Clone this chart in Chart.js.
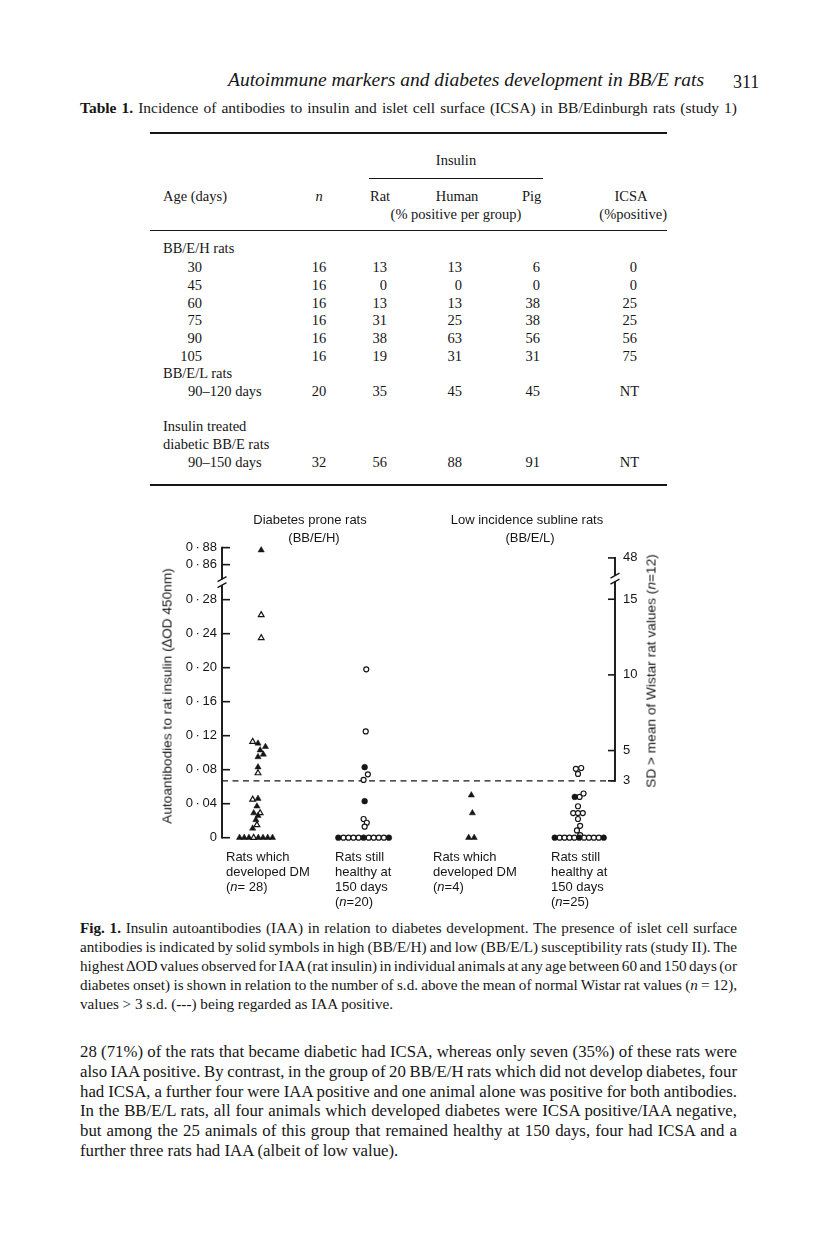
<!DOCTYPE html>
<html lang="en">
<head>
<meta charset="utf-8">
<title>Autoimmune markers and diabetes development in BB/E rats</title>
<script src="https://cdn.jsdelivr.net/npm/chart.js@4.4.1/dist/chart.umd.min.js"></script>
<style>
  html, body { margin: 0; padding: 0; background: #fff; }
  #page { position: relative; width: 816px; height: 1238px; overflow: hidden; background: #fff;
          color: #161616; font-family: "Liberation Serif", "Times New Roman", serif; }
  .t { position: absolute; white-space: nowrap; line-height: 16px; }
  .rule { position: absolute; background: #161616; }
  .tab { font-size: 14.5px; }
  .fig { font-family: "Liberation Sans", Arial, sans-serif; font-size: 13px; z-index: 2; }
  .rot { position: absolute; white-space: nowrap; font-family: "Liberation Sans", Arial, sans-serif;
         font-size: 13.7px; transform: translate(-50%, -50%) rotate(-90deg); }
  .para { position: absolute; left: 80px; width: 657px; }
  .para div { white-space: nowrap; }
  #fig { position: absolute; left: 150px; top: 500px; }
</style>
</head>
<body>
<div id="page">
  <div class="t" style="left:228px; top:69px; font-size:19.5px; line-height:22px; font-style:italic;">Autoimmune markers and diabetes development in BB/E rats</div>
  <div class="t" style="left:733px; top:71px; font-size:18px; line-height:22px;">311</div>
  <div class="para" style="top:99px; font-size:15.5px; line-height:18px;">
    <div class="fit"><b>Table 1.</b> Incidence of antibodies to insulin and islet cell surface (ICSA) in BB/Edinburgh rats (study 1)</div>
  </div>

  <canvas id="fig" width="520" height="350"></canvas>

  <div class="para" style="top:918px; font-size:15.2px; line-height:19px;">
    <div class="fit"><b>Fig. 1.</b> Insulin autoantibodies (IAA) in relation to diabetes development. The presence of islet cell surface</div>
    <div class="fit">antibodies is indicated by solid symbols in high (BB/E/H) and low (BB/E/L) susceptibility rats (study II). The</div>
    <div class="fit">highest ∆OD values observed for IAA (rat insulin) in individual animals at any age between 60 and 150 days (or</div>
    <div class="fit">diabetes onset) is shown in relation to the number of s.d. above the mean of normal Wistar rat values (<i>n</i> = 12),</div>
    <div>values &gt; 3 s.d. (---) being regarded as IAA positive.</div>
  </div>

  <div class="para" style="top:1042px; font-size:16.8px; line-height:19.8px;">
    <div class="fit">28 (71%) of the rats that became diabetic had ICSA, whereas only seven (35%) of these rats were</div>
    <div class="fit">also IAA positive. By contrast, in the group of 20 BB/E/H rats which did not develop diabetes, four</div>
    <div class="fit">had ICSA, a further four were IAA positive and one animal alone was positive for both antibodies.</div>
    <div class="fit">In the BB/E/L rats, all four animals which developed diabetes were ICSA positive/IAA negative,</div>
    <div class="fit">but among the 25 animals of this group that remained healthy at 150 days, four had ICSA and a</div>
    <div>further three rats had IAA (albeit of low value).</div>
  </div>
</div>

<script>
// ---------------- Table 1 ----------------
const ageDays  = ['30', '45', '60', '75', '90', '105']
const nRats    = [16, 16, 16, 16, 16, 16]
const ratPct   = [13, 0, 13, 31, 38, 19]
const humanPct = [13, 0, 13, 25, 63, 31]
const pigPct   = [6, 0, 38, 38, 56, 31]
const icsaPct  = [0, 0, 25, 25, 56, 75]
const lowRow     = ['90–120 days', 20, 35, 45, 45, 'NT']
const treatedRow = ['90–150 days', 32, 56, 88, 91, 'NT']

// ---------------- Fig. 1 ----------------
// group names under the x axis
const groupLabels = [
    ['Rats which', 'developed DM', '(<i>n</i>= 28)'],
    ['Rats still', 'healthy at', '150 days', '(<i>n</i>=20)'],
    ['Rats which', 'developed DM', '(<i>n</i>=4)'],
    ['Rats still', 'healthy at', '150 days', '(<i>n</i>=25)']
]
// highest ΔOD per animal: [offset from group centre (category units), ΔOD]
// BB/E/H, developed DM (triangles)
const hDmIcsaPos = [[0.03, 0.877], [0, 0.111], [0.07, 0.107], [0.02, 0.103], [0.05, 0.098], [0, 0.095], [0, 0.083],
    [0, 0.046], [-0.01, 0.037], [-0.04, 0.029], [0, 0.026], [-0.02, 0.021], [-0.05, 0.011],
    [-0.173, 0], [-0.129, 0], [-0.085, 0], [0.003, 0], [0.047, 0], [0.091, 0], [0.136, 0]]
const hDmIcsaNeg = [[0.03, 0.262], [0.03, 0.235], [-0.05, 0.113], [0, 0.076], [-0.05, 0.045], [0.02, 0.029],
    [-0.01, 0.015], [-0.041, 0]]
// BB/E/H, healthy at 150 days (circles)
const hWellIcsaPos = [[0, 0.083], [0, 0.043], [-0.247, 0], [-0.01, 0], [0.227, 0]]
const hWellIcsaNeg = [[0.015, 0.198], [0.01, 0.125], [0.03, 0.0746], [-0.01, 0.068], [-0.01, 0.022], [0.02, 0.0176],
    [0, 0.013], [-0.199, 0], [-0.152, 0], [-0.105, 0], [-0.057, 0], [0.038, 0], [0.085, 0], [0.132, 0], [0.18, 0]]
// BB/E/L, developed DM
const lDmIcsaPos = [[0, 0.05], [0.01, 0.029], [-0.025, 0], [0.027, 0]]
// BB/E/L, healthy at 150 days
const lWellIcsaPos = [[-0.03, 0.048], [-0.218, 0], [0.012, 0], [0.241, 0]]
const lWellIcsaNeg = [[-0.02, 0.081], [0.03, 0.082], [0, 0.075], [0.015, 0.048], [0.052, 0.052],
    [0, 0.037], [-0.045, 0.029], [0.045, 0.029], [0, 0.029], [0, 0.022],
    [0.02, 0.014], [-0.01, 0.0085], [0.02, 0.003],
    [-0.172, 0], [-0.126, 0], [-0.08, 0], [-0.034, 0], [0.057, 0], [0.103, 0], [0.149, 0], [0.195, 0]]

// axis ticks
const odTicks = [0, 0.04, 0.08, 0.12, 0.16, 0.20, 0.24, 0.28, 0.86, 0.88]
const sdTicks = [3, 5, 10, 15, 48]
// normal Wistar rats (n=12)
const wistarMean = 0.0135
const wistarSD = 0.0178

var INK = '#161616'
var page = document.getElementById('page')

function put(html, x, y, align, cls) {
    var d = document.createElement('div')
    d.className = 't ' + (cls || '')
    d.innerHTML = html
    d.style.top = (y - 8) + 'px'
    if (align == 'right') d.style.right = (816 - x) + 'px'
    else if (align == 'center') { d.style.left = x + 'px'; d.style.transform = 'translateX(-50%)' }
    else d.style.left = x + 'px'
    page.appendChild(d)
    return d
}
function rule(x1, x2, y, h) {
    var r = document.createElement('div')
    r.className = 'rule'
    r.style.left = x1 + 'px'; r.style.width = (x2 - x1) + 'px'
    r.style.top = y + 'px'; r.style.height = h + 'px'
    page.appendChild(r)
}
// justify a single typeset line to the full measure by stretching the word gaps
function fitLine(el, W) {
    el.innerHTML = '<span>' + el.innerHTML.trim() + '</span>'
    var span = el.firstChild
    var natural = span.getBoundingClientRect().width
    var gaps = span.textContent.trim().split(/\s+/).length - 1
    if (gaps > 0) span.style.wordSpacing = ((W - natural) / gaps) + 'px'
}
document.querySelectorAll('.fit').forEach(function (el) { fitLine(el, 657) })

// ---- table layout ----
var col = { label: 163, sub: 188, age: 202, n: 319, rat: 387, human: 462, pig: 540, icsa: 637 }
rule(150, 667, 132, 1.6)
put('Insulin', 456, 160, 'center', 'tab')
rule(369, 543, 178, 1)
put('Age (days)', col.label, 196, 'left', 'tab')
put('<i>n</i>', col.n, 196, 'center', 'tab')
put('Rat', 370, 196, 'left', 'tab')
put('Human', 457, 196, 'center', 'tab')
put('Pig', 522, 196, 'left', 'tab')
put('ICSA', 631, 196, 'center', 'tab')
put('(% positive per group)', 456, 214, 'center', 'tab')
put('(%positive)', 667, 214, 'right', 'tab')
rule(150, 667, 230, 1)
put('BB/E/H rats', col.label, 248, 'left', 'tab')
ageDays.forEach(function (a, i) {
    var y = 267 + i * 17.8
    put(a, col.age, y, 'right', 'tab')
    put(nRats[i], col.n, y, 'center', 'tab')
    put(ratPct[i], col.rat, y, 'right', 'tab')
    put(humanPct[i], col.human, y, 'right', 'tab')
    put(pigPct[i], col.pig, y, 'right', 'tab')
    put(icsaPct[i], col.icsa, y, 'right', 'tab')
})
function putRow(row, y) {
    put(row[0], col.sub, y, 'left', 'tab')
    put(row[1], col.n, y, 'center', 'tab')
    put(row[2], col.rat, y, 'right', 'tab')
    put(row[3], col.human, y, 'right', 'tab')
    put(row[4], col.pig, y, 'right', 'tab')
    put(row[5], col.icsa + 2, y, 'right', 'tab')
}
put('BB/E/L rats', col.label, 373, 'left', 'tab')
putRow(lowRow, 391)
put('Insulin treated', col.label, 426, 'left', 'tab')
put('diabetic BB/E rats', col.label, 444, 'left', 'tab')
putRow(treatedRow, 462)
rule(150, 667, 484, 1.6)

// ---- figure texts ----
put('Diabetes prone rats', 310, 520, 'center', 'fig')
put('(BB/E/H)', 314, 538, 'center', 'fig')
put('Low incidence subline rats', 527, 520, 'center', 'fig')
put('(BB/E/L)', 530, 538, 'center', 'fig')
var labelLeft = [226, 335, 433, 551]
groupLabels.forEach(function (lines, g) {
    lines.forEach(function (s, k) { put(s, labelLeft[g], 857 + k * 15, 'left', 'fig') })
})
var t1 = document.createElement('div')
t1.className = 'rot'; t1.style.left = '167px'; t1.style.top = '696px'
t1.innerHTML = 'Autoantibodies to rat insulin (∆OD 450nm)'
page.appendChild(t1)
var t2 = document.createElement('div')
t2.className = 'rot'; t2.style.left = '651px'; t2.style.top = '671px'
t2.innerHTML = 'SD &gt; mean of Wistar rat values (<i>n</i>=12)'
page.appendChild(t2)

// ---- broken axis: values above the break are pulled down ----
var Y_MAX = 0.345
var AXIS_GAP = 0.0412          // room left between 0.28 and 0.86
function odToAxis(v) { return v > 0.5 ? v - 0.86 + 0.28 + AXIS_GAP : v }
function sdToAxis(s) { return (odToAxis(wistarMean + s * wistarSD) - wistarMean) / wistarSD }
function fmtOD(v) { return v === 0 ? '0' : '0\u2009·\u2009' + v.toFixed(2).slice(2) }
var X_MIN = 0.6625, X_MAX = 4.347
var threshold = wistarMean + 3 * wistarSD

function toXY(group, pts) {
    return pts.map(function (p) { return { x: group + p[0], y: odToAxis(p[1]) } })
}
function symbols(pts, group, shape, filled) {
    var tri = shape == 'triangle'
    return {
        data: toXY(group, pts),
        pointStyle: shape,
        pointRadius: tri ? (filled ? 3.6 : 3.3) : (filled ? 2.9 : 2.5),
        pointHoverRadius: tri ? 3.6 : 2.9,
        backgroundColor: filled ? INK : '#fff',
        borderColor: INK,
        borderWidth: filled ? 0.5 : 1.2,
        clip: false
    }
}

// axis lines, inward ticks and break marks
var axesPlugin = {
    id: 'brokenAxes',
    beforeDatasetsDraw: function (chart) {
        var ctx = chart.ctx, a = chart.chartArea, y = chart.scales.y, y2 = chart.scales.y2
        var py = function (v) { return y.getPixelForValue(odToAxis(v)) }
        var ps = function (s) { return y2.getPixelForValue(sdToAxis(s)) }
        function seg(x1, y1, x2, yy2, w) {
            ctx.lineWidth = w; ctx.beginPath(); ctx.moveTo(x1, y1); ctx.lineTo(x2, yy2); ctx.stroke()
        }
        ctx.save()
        ctx.strokeStyle = INK
        ctx.lineCap = 'butt'
        // left axis
        var xl = a.left
        var bl = (py(0.28) + py(0.86)) / 2
        seg(xl, py(0) + 0.8, xl, bl + 3, 1.9)
        seg(xl, bl - 3, xl, py(0.88) - 0.8, 1.9)
        odTicks.forEach(function (v) { seg(xl, py(v), xl + 8, py(v), 1.6) })
        seg(xl - 4.5, bl + 5.5, xl + 4.5, bl + 0.5, 1.3)
        seg(xl - 4.5, bl - 0.5, xl + 4.5, bl - 5.5, 1.3)
        // right axis
        var xr = a.right
        var br = (ps(15) + ps(48)) / 2
        seg(xr, ps(3) + 0.8, xr, br + 3, 1.9)
        seg(xr, br - 3, xr, ps(48) - 0.8, 1.9)
        sdTicks.forEach(function (s) { seg(xr - 7, ps(s), xr, ps(s), 1.6) })
        seg(xr - 4.5, br + 5.5, xr + 4.5, br + 0.5, 1.3)
        seg(xr - 4.5, br - 0.5, xr + 4.5, br - 5.5, 1.3)
        ctx.restore()
    }
}

// fixed scale boxes so the plot area sits where the printed axes are
function fixBox(w) {
    return function (s) { s.width = w; s.paddingTop = 0; s.paddingBottom = 0 }
}

var tickFont = { family: 'Liberation Sans', size: 13 }
new Chart(document.getElementById('fig'), {
    type: 'scatter',
    data: {
        datasets: [
            symbols(hDmIcsaPos, 1, 'triangle', true),
            symbols(hDmIcsaNeg, 1, 'triangle', false),
            symbols(hWellIcsaPos, 2, 'circle', true),
            symbols(hWellIcsaNeg, 2, 'circle', false),
            symbols(lDmIcsaPos, 3, 'triangle', true),
            symbols(lWellIcsaPos, 4, 'circle', true),
            symbols(lWellIcsaNeg, 4, 'circle', false),
            {   // 3 s.d. above the Wistar mean
                data: [{ x: X_MIN, y: threshold }, { x: X_MAX, y: threshold }],
                showLine: true,
                borderColor: INK,
                borderWidth: 1.3,
                borderDash: [6, 4.5],
                pointRadius: 0,
                clip: false
            }
        ]
    },
    options: {
        responsive: false,
        animation: false,
        events: [],
        layout: { padding: { top: 44.4, bottom: 12.3, left: 0, right: 0 } },
        plugins: { legend: { display: false }, tooltip: { enabled: false } },
        scales: {
            x: { type: 'linear', min: X_MIN, max: X_MAX, display: false },
            y: {
                type: 'linear', position: 'left', min: 0, max: Y_MAX,
                grid: { display: false, drawTicks: false }, border: { display: false },
                afterFit: fixBox(72),
                afterBuildTicks: function (s) { s.ticks = odTicks.map(function (v) { return { value: odToAxis(v) } }) },
                ticks: {
                    autoSkip: false, padding: 5, color: INK, font: tickFont,
                    callback: function (v, i) { return fmtOD(odTicks[i]) }
                }
            },
            y2: {
                type: 'linear', position: 'right',
                min: (0 - wistarMean) / wistarSD, max: (Y_MAX - wistarMean) / wistarSD,
                grid: { display: false, drawTicks: false }, border: { display: false },
                afterFit: fixBox(55),
                afterBuildTicks: function (s) { s.ticks = sdTicks.map(function (v) { return { value: sdToAxis(v) } }) },
                ticks: {
                    autoSkip: false, padding: 8, color: INK, font: tickFont,
                    callback: function (v, i) { return String(sdTicks[i]) }
                }
            }
        }
    },
    plugins: [axesPlugin]
})
</script>
</body>
</html>
